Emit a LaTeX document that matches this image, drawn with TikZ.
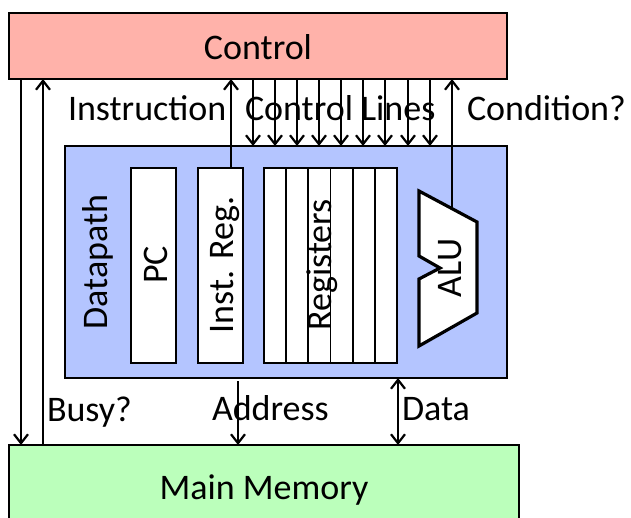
\documentclass[tikz,border=0pt]{standalone}
\usepackage{fontspec}
\setmainfont{Carlito}
\usetikzlibrary{arrows.meta,fit,calc}

\definecolor{ctrlfill}{RGB}{255,178,170}
\definecolor{dpfill}{RGB}{180,197,255}
\definecolor{memfill}{RGB}{187,255,187}

\tikzset{
  box/.style={draw=black, line width=0.9pt, inner sep=0pt, outer sep=0pt},
  ctrlbox/.style={box, fill=ctrlfill},
  dpbox/.style={box, fill=dpfill},
  membox/.style={box, fill=memfill},
  regbox/.style={box, fill=white},
  lbl/.style={inner sep=0pt, outer sep=0pt, font=\fontsize{18}{21}\selectfont},
  vlbl/.style={lbl, anchor=base, rotate=90},
  tip/.style={},
  sig/.style={line width=1.1pt, -{Straight Barb[length=4.5pt,width=7pt,line width=1.1pt]}},
  bisig/.style={line width=1.1pt, {Straight Barb[length=4.5pt,width=7pt,line width=1.1pt]}-{Straight Barb[length=4.5pt,width=7pt,line width=1.1pt]}},
}

\begin{document}
\begin{tikzpicture}[x=0.5pt, y=-0.5pt]
  \clip (0,0) rectangle (631,518);
  \fill[white] (0,0) rectangle (631,518);

  % main blocks
  \node[ctrlbox, fit={(9,13)(507,79)}] (control) {};
  \node[dpbox, fit={(65,146)(507,378)}] (dp) {};
  \node[membox, fit={(9,445)(519,560)}] (mem) {};

  \node[lbl, anchor=base] at (258,60) {Control};
  \node[lbl, anchor=base] at (264,499) {Main Memory};

  % datapath contents
  \node[regbox, fit={(131,168)(176,363)}] (pc) {};
  \node[regbox, fit={(198,168)(243,363)}] (ir) {};
  \node[regbox, fit={(264,168)(397,363)}] (regs) {};
  \foreach \k in {1,...,5}
    \draw[line width=0.9pt] ($(regs.north west)!\k/6!(regs.north east)$)
      -- ($(regs.south west)!\k/6!(regs.south east)$);

  \node[vlbl] at (107,262) {Datapath};
  \node[vlbl] at (167,265) {PC};
  \node[vlbl] at (233,265) {Inst. Reg.};
  \node[vlbl] at (331,265) {Registers};

  % ALU outline
  \coordinate (a1) at (419,191);
  \coordinate (a2) at (477,222);
  \coordinate (a3) at (477,313);
  \coordinate (a4) at (419,346);
  \coordinate (a5) at (419,279);
  \coordinate (a6) at (440,268);
  \coordinate (a7) at (419,256);
  \draw[line width=1.6pt, fill=white, line join=miter]
    (a1) -- (a2) -- (a3) -- (a4) -- (a5) -- (a6) -- (a7) -- cycle;
  \node[vlbl] at (461,268) {ALU};
  \coordinate (alutop) at ($(a1)!0.569!(a2)$);

  % x positions of the vertical signal lines
  \coordinate (xbusyd) at (21,0);
  \coordinate (xbusyu) at (43,0);
  \coordinate (xinst) at (231,0);
  \coordinate (xaddr) at (238,0);
  \coordinate (xdata) at (398,0);

  % control <-> memory
  \draw[sig] (control.south -| xbusyd) -- (mem.north -| xbusyd);
  \draw[sig] (mem.north -| xbusyu) -- (control.south -| xbusyu);

  % instruction to control, condition to control
  \draw[sig] (ir.north -| xinst) -- (control.south -| xinst);
  \draw[sig] (alutop) -- (control.south -| alutop);

  % control lines
  \foreach \i/\x in {1/253,2/275,3/297,4/319,5/341,6/363,7/385,8/408,9/430} {
    \coordinate (cl\i) at (\x,0);
    \draw[sig] (control.south -| cl\i) -- (dp.north -| cl\i);
  }

  % datapath <-> memory
  \draw[sig] ([yshift=-1.5pt]dp.south -| xaddr) -- (mem.north -| xaddr);
  \draw[bisig] (dp.south -| xdata) -- (mem.north -| xdata);

  % signal labels
  \node[lbl, anchor=base west] at (68,121) {Instruction};
  \node[lbl, anchor=base west] at (245,121) {Control Lines};
  \node[lbl, anchor=base west] at (467,121) {Condition?};
  \node[lbl, anchor=base west] at (47,421) {Busy?};
  \node[lbl, anchor=base west] at (212,420) {Address};
  \node[lbl, anchor=base west] at (402,420) {Data};
\end{tikzpicture}
\end{document}
